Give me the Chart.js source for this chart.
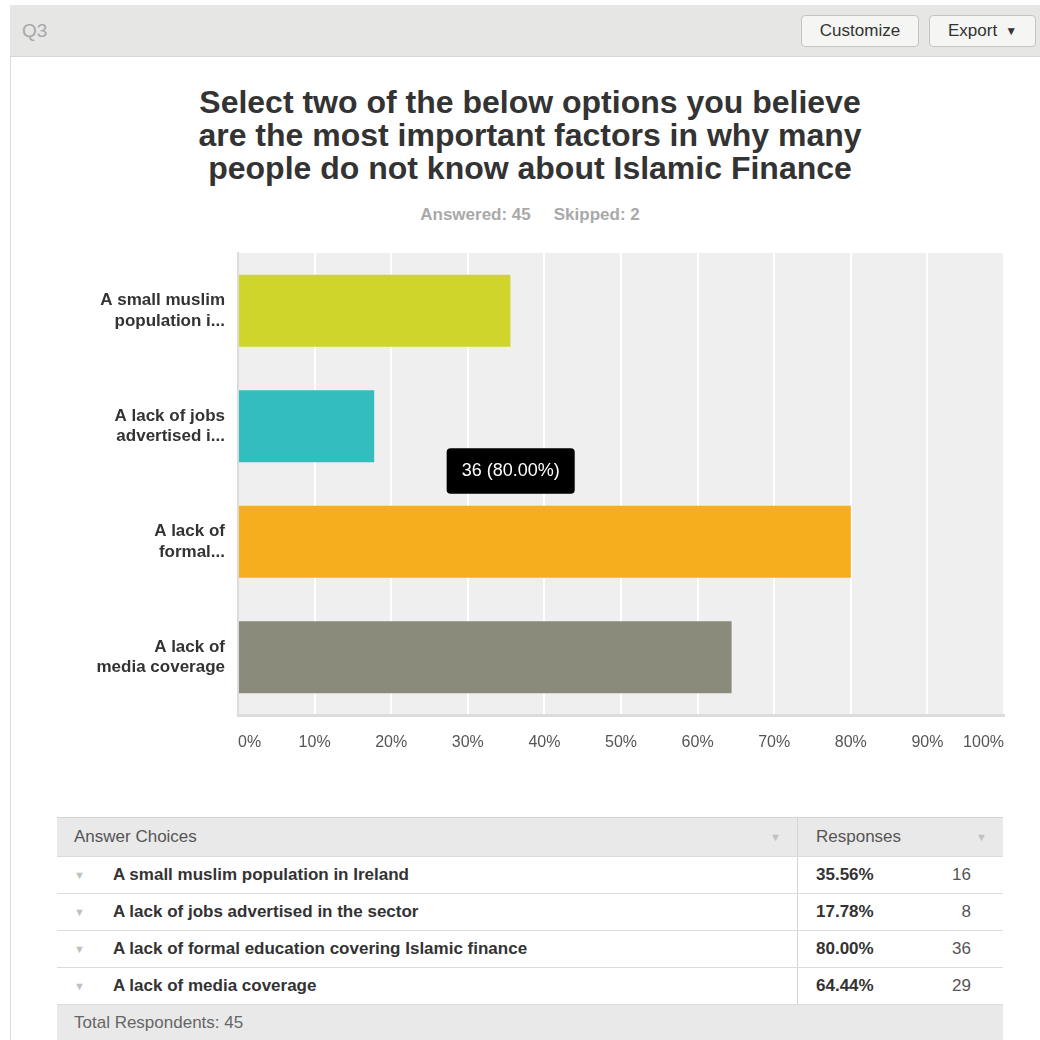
<!DOCTYPE html>
<html lang="en">
<head>
<meta charset="UTF-8">
<title>Q3 - Islamic Finance survey</title>
<script src="https://cdn.jsdelivr.net/npm/chart.js"></script>
<style>
  body { margin:0; width:1040px; height:1040px; overflow:hidden; background:#fff;
         font-family:'Liberation Sans', Arial, sans-serif; position:relative; }
  #panel { position:absolute; left:10px; top:5px; width:1030px; height:1035px;
           border-left:1px solid #dcdcdc; box-sizing:border-box; }
  #topbar { position:absolute; left:10px; top:5px; width:1030px; height:52px; background:#e6e6e4;
            border-bottom:1px solid #d6d6d4; box-sizing:border-box; }
  #q { position:absolute; left:12px; top:15px; font-size:19px; color:#a8a8a8; }
  .btn { position:absolute; top:10px; height:32px; box-sizing:border-box; background:#f5f5f3;
         border:1px solid #c4c4c0; border-radius:4px; font-size:17px; color:#333;
         line-height:30px; text-align:center; }
  .btn .caret { font-size:12px; margin-left:8px; position:relative; top:-1px; }
  #title { position:absolute; left:0; width:1060px; top:86px; text-align:center; font-size:32px;
           font-weight:bold; color:#333; line-height:33px; }
  #sub { position:absolute; left:0; width:1060px; top:205px; text-align:center; font-size:17px;
         font-weight:bold; color:#a9a9a9; }
  #sub span + span { margin-left:23px; }
  #chartBox { position:absolute; left:57px; top:240px; width:960px; height:530px; }
  #table { position:absolute; left:57px; top:817px; width:946px; font-size:17px; color:#333; }
  .row { display:flex; height:37px; align-items:center; border-bottom:1px solid #dcdcdc; box-sizing:border-box; }
  .row.head { height:40px; background:#e9e9e9; border-top:1px solid #d4d4d4; color:#555; }
  .row .c1 { width:741px; height:100%; display:flex; align-items:center; border-right:1px solid #d4d4d4;
             box-sizing:border-box; position:relative; }
  .row .c2 { width:120px; padding-left:18px; box-sizing:border-box; font-weight:bold; }
  .row .c3 { width:85px; text-align:right; padding-right:32px; box-sizing:border-box; color:#555; }
  .row.head .c2 { width:205px; font-weight:normal; position:relative; height:100%; display:flex; align-items:center; }
  .arrow { color:#c0c0c0; font-size:11px; }
  .row .c1 .arrow { position:absolute; left:17px; }
  .row .c1 .txt { padding-left:56px; font-weight:bold; }
  .row.head .c1 .txt { padding-left:17px; font-weight:normal; }
  .row.head .arrow, .row.head .c1 .arrow { position:absolute; left:auto; right:16px; }
  .foot { height:36px; background:#e9e9e9; display:flex; align-items:center; padding-left:17px;
          color:#666; font-size:17px; }
</style>
</head>
<body>
<div id="panel"></div>
<div id="topbar">
  <div id="q">Q3</div>
  <div class="btn" style="left:791px; width:118px;">Customize</div>
  <div class="btn" style="left:919px; width:107px;">Export<span class="caret">&#9660;</span></div>
</div>
<div id="title">Select two of the below options you believe<br>are the most important factors in why many<br>people do not know about Islamic Finance</div>
<div id="sub"><span>Answered: 45</span><span>Skipped: 2</span></div>
<div id="chartBox"><canvas id="chart"></canvas></div>
<div id="table"></div>

<script>
// chart data
const categoryLabels = [
  ['A small muslim', 'population i...'],
  ['A lack of jobs', 'advertised i...'],
  ['A lack of', 'formal...'],
  ['A lack of', 'media coverage']
];
const answerChoices = [
  'A small muslim population in Ireland',
  'A lack of jobs advertised in the sector',
  'A lack of formal education covering Islamic finance',
  'A lack of media coverage'
];
const responsePercents = [35.56, 17.78, 80.00, 64.44];
const responseCounts = [16, 8, 36, 29];
const totalRespondents = 45;

const barColors = ['#cfd52a', '#34bdbe', '#f6ae1f', '#8a8b7a'];
const hoverIndex = 2;      // bar whose tooltip is shown
const hoverAt = 35.6;      // where the mouse sits along the x axis (%)

const FONT = "'Liberation Sans', Arial, sans-serif";
Chart.defaults.font.family = FONT;

// grey plot background
const plotBackground = {
  id: 'plotBackground',
  beforeDraw(chart) {
    const { ctx, chartArea } = chart;
    ctx.save();
    ctx.fillStyle = '#efefef';
    ctx.fillRect(chartArea.left, chartArea.top, chartArea.width, chartArea.height);
    ctx.restore();
  }
};

// tooltip sits just above the hovered bar, at the mouse x
Chart.Tooltip.positioners.aboveBar = function (items) {
  if (!items.length) return false;
  const bar = items[0].element;
  return {
    x: this.chart.scales.x.getPixelForValue(hoverAt),
    y: bar.y - bar.height / 2 - 12
  };
};

const chart = new Chart(document.getElementById('chart'), {
  type: 'bar',
  data: {
    labels: categoryLabels,
    datasets: [{
      data: responsePercents,
      backgroundColor: barColors,
      borderWidth: 0,
      categoryPercentage: 1,
      barPercentage: 0.623
    }]
  },
  plugins: [plotBackground],
  options: {
    indexAxis: 'y',
    responsive: true,
    maintainAspectRatio: false,
    animation: false,
    events: [],
    layout: { padding: { top: 13, right: 13, bottom: 0, left: 0 } },
    plugins: {
      legend: { display: false },
      tooltip: {
        position: 'aboveBar',
        xAlign: 'center',
        yAlign: 'bottom',
        backgroundColor: '#000',
        cornerRadius: 4,
        caretSize: 0,
        caretPadding: 0,
        displayColors: false,
        padding: { x: 15, y: 12 },
        bodyColor: '#fff',
        bodyFont: { size: 18 },
        callbacks: {
          title: () => '',
          label: (c) => `${responseCounts[c.dataIndex]} (${responsePercents[c.dataIndex].toFixed(2)}%)`
        }
      }
    },
    scales: {
      x: {
        min: 0,
        max: 100,
        ticks: {
          stepSize: 10,
          align: 'inner',
          padding: 18,
          color: '#555',
          font: { size: 16 },
          callback: (v) => v + '%'
        },
        grid: {
          color: (c) => c.index === 0 ? 'rgba(0,0,0,0)' : '#ffffff',
          lineWidth: 2,
          drawTicks: false
        },
        border: { color: '#dcdcdc', width: 3 },
        afterFit: (s) => { s.height = 55; s.paddingLeft = 0; s.paddingRight = 0; }
      },
      y: {
        ticks: { color: '#333', font: { size: 17, weight: 'bold' }, padding: 13 },
        grid: { display: false, drawTicks: false },
        border: { color: '#dcdcdc', width: 2 },
        afterFit: (s) => { s.width = 181; s.paddingTop = 0; s.paddingBottom = 0; }
      }
    }
  }
});

chart.tooltip.setActiveElements([{ datasetIndex: 0, index: hoverIndex }], { x: 0, y: 0 });
chart.update('none');

// responses table, built from the same arrays
const table = document.getElementById('table');
let html = '<div class="row head"><div class="c1"><span class="txt">Answer Choices</span>' +
           '<span class="arrow">&#9660;</span></div>' +
           '<div class="c2"><span>Responses</span><span class="arrow">&#9660;</span></div></div>';
answerChoices.forEach((name, i) => {
  html += '<div class="row"><div class="c1"><span class="arrow">&#9660;</span><span class="txt">' + name + '</span></div>' +
          '<div class="c2">' + responsePercents[i].toFixed(2) + '%</div>' +
          '<div class="c3">' + responseCounts[i] + '</div></div>';
});
html += '<div class="foot">Total Respondents: ' + totalRespondents + '</div>';
table.innerHTML = html;
</script>
</body>
</html>
